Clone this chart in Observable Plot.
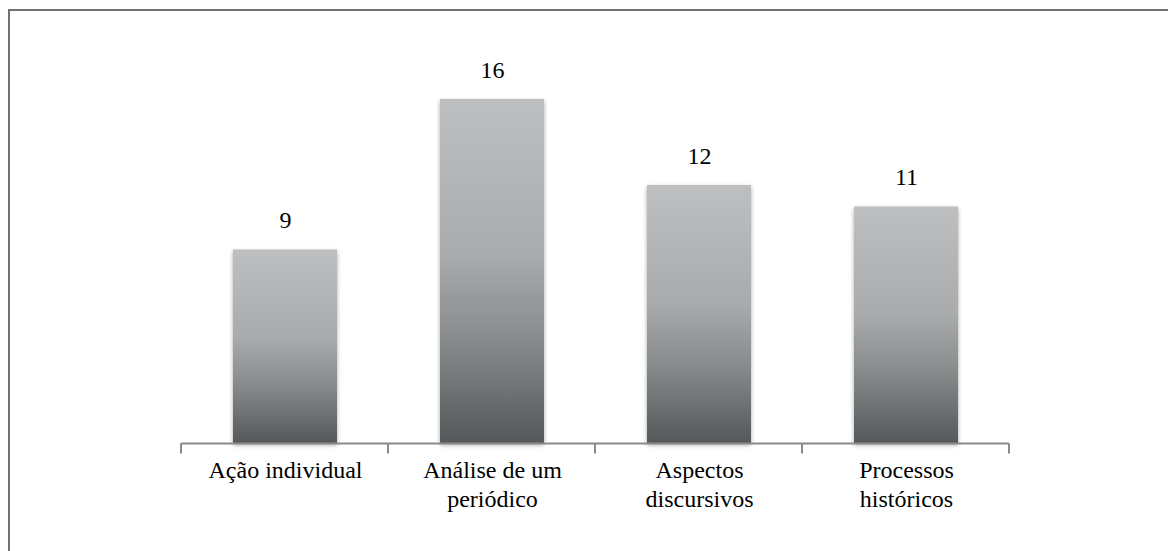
<!DOCTYPE html>
<html>
<head>
<meta charset="utf-8">
<script src="https://cdn.jsdelivr.net/npm/d3@7"></script>
<script src="https://cdn.jsdelivr.net/npm/@observablehq/plot@0.6"></script>
<style>
  body { margin: 0; background: #fff; }
  #wrap { position: relative; width: 1168px; height: 551px; overflow: hidden; }
  #frame { position: absolute; left: 8px; top: 9px; right: -10px; bottom: -10px;
           border-top: 2px solid #717171; border-left: 2px solid #717171; }
  #chart { position: absolute; left: 0; top: 0; }
  #chart svg g[aria-label="bar"] { filter: drop-shadow(0 2px 2px rgba(0, 0, 0, 0.35)); }
</style>
</head>
<body>
<div id="wrap">
  <div id="frame"></div>
  <div id="chart"></div>
</div>
<script>
// Categories, counts and wrapped axis labels
const categories = ["Ação individual", "Análise de um periódico", "Aspectos discursivos", "Processos históricos"];
const counts = [9, 16, 12, 11];
const tickLabels = ["Ação individual", "Análise de um\nperiódico", "Aspectos\ndiscursivos", "Processos\nhistóricos"];

const data = categories.map((c, i) => ({category: c, count: counts[i], label: tickLabels[i]}));

// Vertical grey gradient shared by all bars
function gradientDefs() {
  const defs = d3.create("svg:defs");
  const g = defs.append("linearGradient")
    .attr("id", "barGradient")
    .attr("x1", 0).attr("y1", 0).attr("x2", 0).attr("y2", 1);
  [[0, "#bdbfc0"], [0.45, "#a9abac"], [0.7, "#888b8c"], [1, "#54585a"]]
    .forEach(([o, c]) => g.append("stop").attr("offset", o).attr("stop-color", c));
  return defs.node();
}

// Category axis: a baseline with ticks on the band boundaries
function baselineTicks(index, scales, values, dims) {
  const x = scales.x, y = scales.y;
  const step = x(categories[1]) - x(categories[0]);
  const y0 = Math.round(y(0)) + 0.5;
  const edges = d3.range(categories.length + 1).map(i => Math.round(dims.marginLeft + i * step));
  const g = d3.create("svg:g").attr("fill", "none").attr("stroke", "#8a8a8a").attr("stroke-width", 2);
  g.append("line").attr("x1", edges[0]).attr("x2", edges[edges.length - 1]).attr("y1", y0).attr("y2", y0);
  g.selectAll("line.tick").data(edges).join("line").attr("class", "tick")
    .attr("x1", d => d).attr("x2", d => d)
    .attr("y1", y0).attr("y2", y0 + 10);
  return g.node();
}

const chart = Plot.plot({
  width: 1168,
  height: 551,
  marginLeft: 181,
  marginRight: 159,
  marginTop: 99,
  marginBottom: 108,
  style: {fontFamily: '"Liberation Serif", "Times New Roman", serif', fontSize: "24px", color: "#000", background: "transparent"},
  x: {domain: categories, paddingInner: 0.5, paddingOuter: 0.25, axis: null},
  y: {domain: [0, 16], axis: null},
  marks: [
    gradientDefs,
    Plot.barY(data, {x: "category", y: "count", fill: "url(#barGradient)"}),
    baselineTicks,
    Plot.text(data, {x: "category", y: "count", text: d => String(d.count),
      lineAnchor: "bottom", dy: -22, fontSize: 24, fill: "#000"}),
    Plot.text(data, {x: "category", text: "label", frameAnchor: "bottom",
      lineAnchor: "top", dy: 14, lineHeight: 1.2, fontSize: 24, fill: "#000"})
  ]
});

document.getElementById("chart").append(chart);
</script>
</body>
</html>
